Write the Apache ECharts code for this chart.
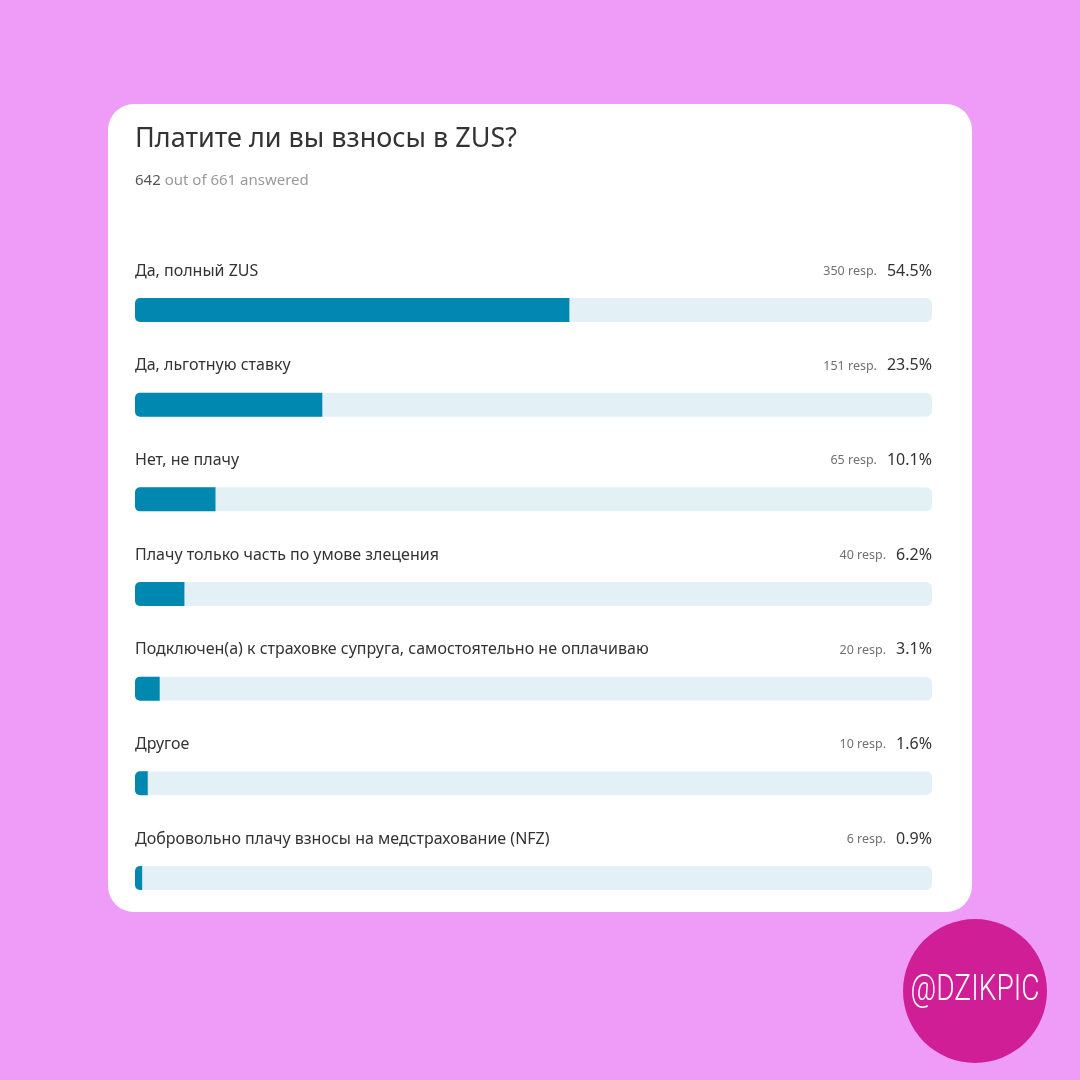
<!DOCTYPE html>
<html><head><meta charset="utf-8">
<script src="https://cdn.jsdelivr.net/npm/echarts@6/dist/echarts.min.js"></script>
<style>html,body{margin:0;padding:0;background:#EF9BF8;}#c{width:1080px;height:1080px;}</style>
</head><body><div id="c"></div>
<script>
const titleText = 'Платите ли вы взносы в ZUS?';
const answered = 642;
const total = 661;
const categories = [
  'Да, полный ZUS',
  'Да, льготную ставку',
  'Нет, не плачу',
  'Плачу только часть по умове злецения',
  'Подключен(а) к страховке супруга, самостоятельно не оплачиваю',
  'Другое',
  'Добровольно плачу взносы на медстрахование (NFZ)'
];
const responses = [350, 151, 65, 40, 20, 10, 6];
const percents = [54.5, 23.5, 10.1, 6.2, 3.1, 1.6, 0.9];
const badgeText = '@DZIKPIC';

const FONT = '"Noto Sans", "Open Sans", sans-serif';
const chart = echarts.init(document.getElementById('c'), null, {renderer: 'canvas'});
chart.setOption({
  backgroundColor: '#EF9BF8',
  animation: false,
  graphic: [
    {type: 'rect', z: 0, shape: {x: 108, y: 104, width: 864, height: 808, r: 26}, style: {fill: '#FFFFFF'}},
    {type: 'circle', z: 0, shape: {cx: 975, cy: 991, r: 72}, style: {fill: '#D01F96'}},
    {type: 'text', z: 1, x: 975, y: 991, scaleX: 0.78, style: {text: badgeText, fill: '#FFFFFF', font: '300 36px Roboto, sans-serif', align: 'center', verticalAlign: 'middle'}}
  ],
  title: {
    left: 135, top: 126, padding: 0,
    text: titleText,
    textStyle: {fontFamily: FONT, fontSize: 27, fontWeight: 'normal', color: '#333333'},
    subtext: '{a|' + answered + '} {b|out of ' + total + ' answered}',
    itemGap: 20,
    subtextStyle: {
      fontFamily: FONT, fontSize: 15,
      rich: {a: {fontFamily: FONT, fontSize: 15, color: '#555555'}, b: {fontFamily: FONT, fontSize: 15, color: '#9A9A9A'}}
    }
  },
  grid: {left: 135, right: 148, top: 262.7, bottom: 154.7, containLabel: false},
  xAxis: {type: 'value', min: 0, max: 100, show: false},
  yAxis: [
    {
      type: 'category', data: categories, inverse: true, position: 'left',
      axisLine: {show: false}, axisTick: {show: false}, axisLabel: {show: false}
    },
    {
      type: 'category', data: categories, inverse: true, position: 'right',
      axisLine: {show: false}, axisTick: {show: false},
      axisLabel: {inside: true, interval: 0, margin: 0, align: 'right', verticalAlign: 'middle', padding: [0, 0, 78, 0],
        formatter: (v, i) => '{c|' + responses[i] + ' resp.}{p|' + percents[i].toFixed(1) + '%}',
        rich: {
          c: {fontFamily: FONT, fontSize: 12.5, color: '#707070', padding: [1, 10, 0, 0]},
          p: {fontFamily: FONT, fontSize: 16, color: '#333333'}
        }}
    }
  ],
  series: [{
    type: 'bar', yAxisIndex: 0, data: percents, barWidth: 24,
    itemStyle: {color: '#0088B0', borderRadius: [5, 0, 0, 5]},
    showBackground: true,
    backgroundStyle: {color: '#E3F1F7', borderRadius: 6},
    label: {
      show: true, position: [0, -27], align: 'left', verticalAlign: 'middle',
      formatter: (p) => categories[p.dataIndex],
      fontFamily: FONT, fontSize: 16, color: '#333333'
    }
  }]
});
</script></body></html>
